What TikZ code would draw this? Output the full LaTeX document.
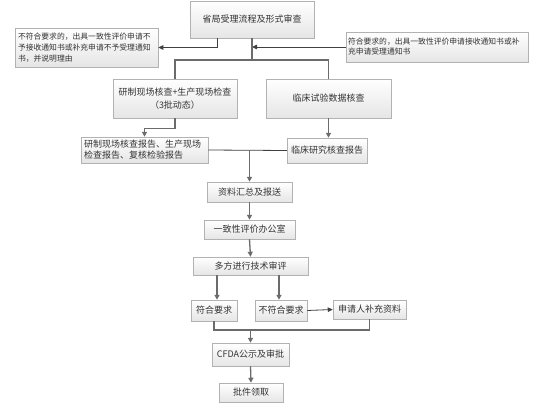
\documentclass[tikz,border=0pt]{standalone}
\usepackage{fontspec}
\setmainfont{Noto Sans CJK SC}
\usetikzlibrary{shadows,arrows.meta}
\begin{document}
\begin{tikzpicture}[x=1pt,y=-1pt,
  box/.style={draw=black!30, line width=0.5pt, top color=white, bottom color=black!10,
    drop shadow={shadow xshift=1.2pt, shadow yshift=-1.2pt, opacity=0.25},
    inner sep=1pt, font=\fontsize{9}{11}\selectfont, text=black!80, align=center},
  note/.style={box, font=\fontsize{7.8}{11}\selectfont, align=left},
  conn/.style={draw=black!58, line width=1.3pt},
  arr/.style={conn, -{Triangle[length=5pt,width=5pt]}},
  thin/.style={draw=black!75, line width=0.8pt},
  arrthin/.style={thin, -{Triangle[length=5pt,width=4.5pt]}}
]
\useasboundingbox (0,0) rectangle (538,412);
\fill[white] (0,0) rectangle (538,412);

\node[box, minimum width=124, minimum height=37] (top) at (252,19.5) {省局受理流程及形式审查};
\node[note, minimum width=143, minimum height=39, text width=137] (lnote) at (86.5,47.5)
  {不符合要求的，出具一致性评价申请不\\予接收通知书或补充申请不予受理通知\\书，并说明理由};
\node[note, minimum width=182, minimum height=30, text width=178, font=\fontsize{7.8}{10}\selectfont] (rnote) at (437,47)
  {符合要求的，出具一致性评价申请接收通知书或补\\充申请受理通知书};
\node[box, minimum width=124, minimum height=39, font=\fontsize{9}{13}\selectfont] (A) at (175,98.5)
  {研制现场核查+生产现场检查\\（3批动态）};
\node[box, minimum width=125, minimum height=39] (B) at (328.5,98.5) {临床试验数据核查};
\node[box, minimum width=127, minimum height=26, text width=121, align=left] (repL) at (144.5,150)
  {研制现场核查报告、生产现场\\检查报告、复核检验报告};
\node[box, minimum width=80, minimum height=25] (repR) at (327,150.5) {临床研究核查报告};
\node[box, minimum width=85, minimum height=20] (sum) at (249.5,192) {资料汇总及报送};
\node[box, minimum width=91, minimum height=19] (off) at (249.5,229.5) {一致性评价办公室};
\node[box, minimum width=115, minimum height=18] (multi) at (250.5,266) {多方进行技术审评};
\node[box, minimum width=46, minimum height=21] (ok) at (214,310.5) {符合要求};
\node[box, minimum width=52, minimum height=21] (nok) at (281,310.5) {不符合要求};
\node[box, minimum width=73, minimum height=19] (supp) at (369.5,309.5) {申请人补充资料};
\node[box, minimum width=77, minimum height=23] (cfda) at (250.5,354.5) {CFDA公示及审批};
\node[box, minimum width=64, minimum height=19] (get) at (251,392.5) {批件领取};

\coordinate (split) at (252,60);
\coordinate (join) at (214,330);

\draw[arrthin] ([xshift=-35]top.south) |- (lnote.east);
\draw[arrthin] (rnote.west) -- (rnote.west -| top.south);
\draw[conn] (top.south) -- (split);
\draw[conn] (A.north) |- (split) -| (B.north);
\draw[arr] (A.south) -- ++(0,10) -| (repL.north);
\draw[arr] (B.south) -- (B.south |- repR.north);
\draw[thin] (repL.east) -- (repR.west);
\draw[arr] (repL.east -| sum.north) -- (sum.north);
\draw[arr] (sum.south) -- (off.north);
\draw[arr] (off.south) -- (multi.north);
\draw[arr] ([xshift=-33.5]multi.south) -- ([xshift=3]ok.north);
\draw[arr] ([xshift=28.5]multi.south) -- ([xshift=-2]nok.north);
\draw[arrthin] (nok.east) -- (supp.west);
\draw[conn] (ok.south) -- (join) -| (supp.south);
\draw[arr] (join -| cfda.north) -- (cfda.north);
\draw[arr] (cfda.south) -- (get.north);
\end{tikzpicture}
\end{document}
